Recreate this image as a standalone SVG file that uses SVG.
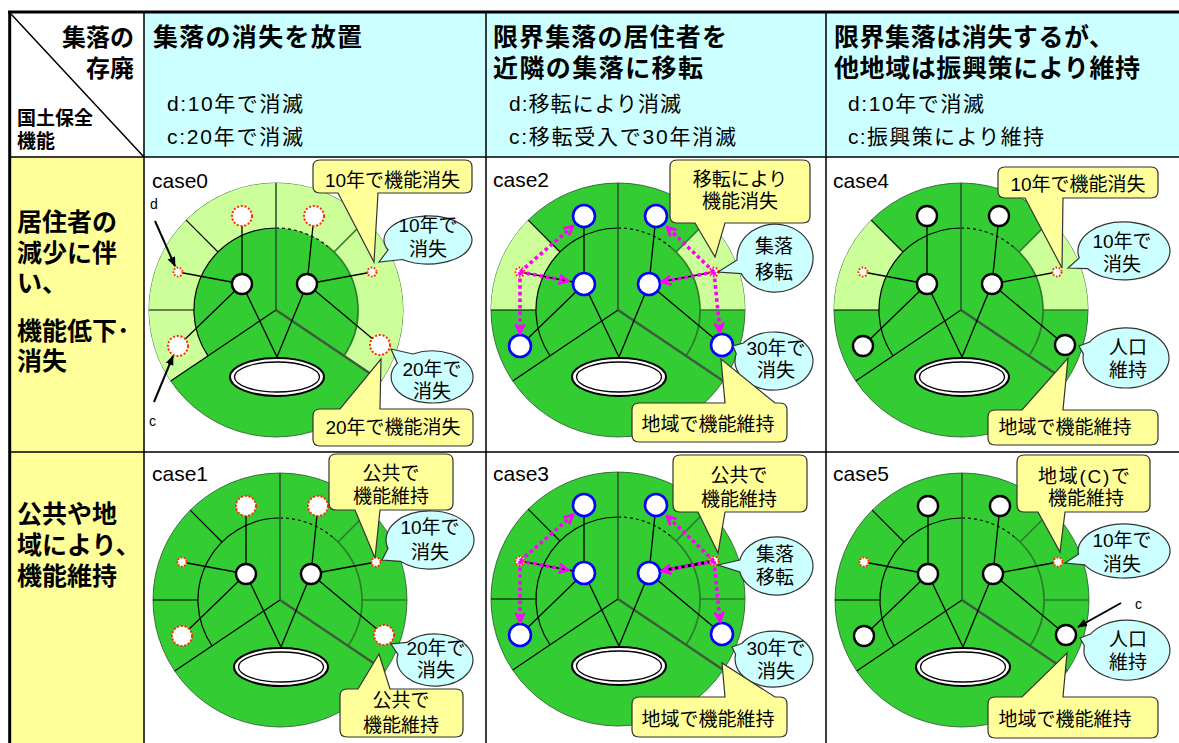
<svg xmlns="http://www.w3.org/2000/svg" xmlns:xlink="http://www.w3.org/1999/xlink" width="1179" height="743" viewBox="0 0 1179 743">
<defs>
<style>
text{font-family:"Liberation Sans","Noto Sans CJK JP",sans-serif;fill:#000}
.th{font-size:25px;font-weight:bold}
.tb{font-size:25px;font-weight:bold}
.tk{font-size:24px;font-weight:bold}
.tq{font-size:19px;font-weight:bold}
.ts{font-size:21px}
.tc{font-size:19px;text-anchor:middle}
.tcase{font-size:21px}
.tl{font-size:14px}
.grid{fill:none;stroke:#000;stroke-width:1.5}
.dk{fill:#33CC33;stroke:#24522a;stroke-width:0.8}
.lt{fill:#CCFF99}
.ln{fill:none;stroke:#000;stroke-width:1.2}
.lg{fill:none;stroke:#2B7A2B;stroke-width:1.6}
.dash{stroke-dasharray:3 3}
.lup{fill:none;stroke:#2f5530;stroke-width:1.6}
.lrd{fill:none;stroke:#3b5b3b;stroke-width:2.4}
.ed{fill:none;stroke:#000;stroke-width:1.3}
.nw{fill:#fff;stroke:#000;stroke-width:2.4}
.nb{fill:#fff;stroke:#0000FF;stroke-width:2.6}
.nr{fill:#fff;stroke:#FF2A00;stroke-width:2;stroke-dasharray:2 1.8}
.ns{fill:#fff;stroke:#FF2A00;stroke-width:2;stroke-dasharray:1.6 1.6}
.yc{fill:#FFFF99;stroke:#333;stroke-width:1.2}
.cc{fill:#CCFFFF;stroke:#333;stroke-width:1.2}
.mg{fill:none;stroke:#FF00FF;stroke-width:3.6;stroke-dasharray:3.6 3;marker-end:url(#mh)}
.ar{fill:none;stroke:#000;stroke-width:2;marker-end:url(#ah)}
</style>
<marker id="mh" viewBox="0 0 12 12" refX="10" refY="6" markerWidth="12" markerHeight="12" markerUnits="userSpaceOnUse" orient="auto">
<path d="M1,1.5 L10,6 L1,10.5" fill="none" stroke="#FF00FF" stroke-width="2.6"/>
</marker>
<marker id="ah" viewBox="0 0 10 10" refX="9" refY="5" markerWidth="10" markerHeight="10" markerUnits="userSpaceOnUse" orient="auto">
<path d="M0,1 L10,5 L0,9 Z" fill="#000"/>
</marker>
<!-- outer ring pieces of the disc (inner radius 82, outer radius 127) -->
<path id="ring-all" d="M-105.3,71 A127,127 0 1 1 105.3,71 L68,45.9 A82,82 0 1 0 -68,45.9 Z"/>
<path id="ring-l" d="M-89.8,-89.8 A127,127 0 0 0 -127,0 L-82,0 A82,82 0 0 1 -58,-58 Z"/>
<path id="ring-r" d="M127,0 A127,127 0 0 0 89.8,-89.8 L58,-58 A82,82 0 0 1 82,0 Z"/>
<!-- sector boundaries and inner circle -->
<g id="lines-a">
<path class="ln" d="M0,-82 A82,82 0 0 0 -68,45.9"/>
<path class="ln dash" d="M0,-82 A82,82 0 0 1 52.7,-62.8"/>
<path class="lg" d="M52.7,-62.8 A82,82 0 0 1 68,45.9"/>
<path class="ln" d="M0,0 L-105.3,71 M-58,-58 L-89.8,-89.8 M-82,0 L-127,0"/>
<path class="lg" d="M58,-58 L89.8,-89.8"/>
<path class="lup" d="M0,0 V-127"/>
<path class="lrd" d="M0,0 L105.3,71"/>
</g>
<g id="lines-b">
<use href="#lines-a"/>
<path class="lg" d="M82,0 L127,0"/>
</g>
<g id="lake">
<ellipse cx="1" cy="67" rx="47" ry="19" fill="#fff" stroke="#000" stroke-width="2"/>
<ellipse cx="1" cy="67" rx="42.5" ry="15" fill="#fff" stroke="#000" stroke-width="1.3"/>
</g>
<path id="links" class="ed" d="M-34,-26V-94M-34,-26L-98,-38M-34,-26L-98,36M-34,-26L1,47M31,-26L38,-94M31,-26L96,-38M31,-26L104,35M31,-26L1,47"/>
<g id="moves">
<path class="mg" d="M-98,-38 L-45,-84"/>
<path class="mg" d="M-98,-38 L-50,-29"/>
<path class="mg" d="M-98,-38 L-98,23"/>
<path class="mg" d="M96,-38 L49,-83"/>
<path class="mg" d="M96,-38 L44,-28"/>
<path class="mg" d="M96,-38 L102,22"/>
</g>
</defs>

<!-- table -->
<g id="table">
<rect x="9" y="12" width="1170" height="731" fill="#fff"/>
<rect x="144" y="12" width="1035" height="145" fill="#CCFFFF"/>
<rect x="9" y="157" width="135" height="586" fill="#FFFF99"/>
<line x1="11" y1="14" x2="144" y2="157" stroke="#000" stroke-width="1.5"/>
<path class="grid" d="M144,12V743 M486,12V743 M826,12V743 M9,157H1179 M9,452H1179"/>
<path fill="none" stroke="#000" stroke-width="3" d="M8,12H1179 M9.7,11V743"/>
</g>

<!-- header labels -->
<g id="header">
<text class="tk" x="134" y="46" text-anchor="end">集落の</text>
<text class="tk" x="134" y="77" text-anchor="end">存廃</text>
<text class="tq" x="17" y="125">国土保全</text>
<text class="tq" x="17" y="148">機能</text>
<text class="th" x="153" y="46" textLength="209" lengthAdjust="spacing">集落の消失を放置</text>
<text class="ts" x="167" y="111" textLength="136" lengthAdjust="spacing">d:10年で消滅</text>
<text class="ts" x="167" y="144" textLength="136" lengthAdjust="spacing">c:20年で消滅</text>
<text class="th" x="493" y="46" textLength="234" lengthAdjust="spacing">限界集落の居住者を</text>
<text class="th" x="493" y="77" textLength="210" lengthAdjust="spacing">近隣の集落に移転</text>
<text class="ts" x="509" y="111" textLength="172" lengthAdjust="spacing">d:移転により消滅</text>
<text class="ts" x="509" y="144" textLength="227" lengthAdjust="spacing">c:移転受入で30年消滅</text>
<text class="th" x="834" y="46" textLength="280" lengthAdjust="spacing">限界集落は消失するが、</text>
<text class="th" x="834" y="77" textLength="306" lengthAdjust="spacing">他地域は振興策により維持</text>
<text class="ts" x="848" y="111" textLength="136" lengthAdjust="spacing">d:10年で消滅</text>
<text class="ts" x="848" y="144" textLength="196" lengthAdjust="spacing">c:振興策により維持</text>
</g>

<g id="row-labels">
<text class="tb" x="17" y="231">居住者の</text>
<text class="tb" x="17" y="262">減少に伴</text>
<text class="tb" x="17" y="292">い、</text>
<text class="tb" x="17" y="340">機能低下･</text>
<text class="tb" x="17" y="370">消失</text>
<text class="tb" x="17" y="523">公共や地</text>
<text class="tb" x="17" y="554">域により、</text>
<text class="tb" x="17" y="585">機能維持</text>
</g>

<!-- discs -->
<g id="discs">
<g id="disc0" transform="translate(276,310)">
<circle r="127" class="dk"/><use href="#ring-all" class="lt"/><use href="#lines-a"/><use href="#lake"/>
</g>
<g id="disc1" transform="translate(280,600)">
<circle r="127" class="dk"/><use href="#lines-b"/><use href="#lake"/>
</g>
<g id="disc2" transform="translate(618,310)">
<circle r="127" class="dk"/><use href="#ring-l" class="lt"/><use href="#ring-r" class="lt"/><use href="#lines-b"/><use href="#lake"/>
</g>
<g id="disc3" transform="translate(618,599)">
<circle r="127" class="dk"/><use href="#lines-b"/><use href="#lake"/>
</g>
<g id="disc4" transform="translate(961,310)">
<circle r="127" class="dk"/><use href="#ring-l" class="lt"/><use href="#ring-r" class="lt"/><use href="#lines-b"/><use href="#lake"/>
</g>
<g id="disc5" transform="translate(962,600)">
<circle r="127" class="dk"/><use href="#lines-b"/><use href="#lake"/>
</g>
</g>

<!-- links between settlements -->
<g id="connectors">
<use href="#links" transform="translate(276,310)"/>
<use href="#links" transform="translate(280,600)"/>
<use href="#links" transform="translate(618,310)"/>
<use href="#links" transform="translate(618,599)"/>
<path d="M714,561 L649,573" fill="none" stroke="#000" stroke-width="3"/>
<use href="#links" transform="translate(961,310)"/>
<use href="#links" transform="translate(962,600)"/>
</g>

<!-- settlements -->
<g id="nodes">
<g id="nodes0" transform="translate(276,310)">
<circle class="nw" cx="-34" cy="-26" r="10"/><circle class="nw" cx="31" cy="-26" r="10"/>
<circle class="nr" cx="-34" cy="-94" r="10"/><circle class="nr" cx="38" cy="-94" r="10"/>
<circle class="nr" cx="-98" cy="36" r="10"/><circle class="nr" cx="104" cy="35" r="10"/>
<circle class="ns" cx="-98" cy="-38" r="4.5"/><circle class="ns" cx="96" cy="-38" r="4.5"/>
</g>
<g id="nodes1" transform="translate(280,600)">
<circle class="nw" cx="-34" cy="-26" r="10"/><circle class="nw" cx="31" cy="-26" r="10"/>
<circle class="nr" cx="-34" cy="-94" r="10"/><circle class="nr" cx="38" cy="-94" r="10"/>
<circle class="nr" cx="-98" cy="36" r="10"/><circle class="nr" cx="104" cy="35" r="10"/>
<circle class="ns" cx="-98" cy="-38" r="4.5"/><circle class="ns" cx="96" cy="-38" r="4.5"/>
</g>
<g id="nodes2" transform="translate(618,310)">
<circle class="nb" cx="-34" cy="-26" r="11"/><circle class="nb" cx="31" cy="-26" r="11"/>
<circle class="nb" cx="-34" cy="-94" r="11"/><circle class="nb" cx="38" cy="-94" r="11"/>
<circle class="nb" cx="-98" cy="36" r="11"/><circle class="nb" cx="104" cy="35" r="11"/>
<circle class="ns" cx="-98" cy="-38" r="4.5"/><circle class="ns" cx="96" cy="-38" r="4.5"/>
</g>
<g id="nodes3" transform="translate(618,599)">
<circle class="nb" cx="-34" cy="-26" r="11"/><circle class="nb" cx="31" cy="-26" r="11"/>
<circle class="nb" cx="-34" cy="-94" r="11"/><circle class="nb" cx="38" cy="-94" r="11"/>
<circle class="nb" cx="-98" cy="36" r="11"/><circle class="nb" cx="104" cy="35" r="11"/>
<circle class="ns" cx="-98" cy="-38" r="4.5"/><circle class="ns" cx="96" cy="-38" r="4.5"/>
</g>
<g id="nodes4" transform="translate(961,310)">
<circle class="nw" cx="-34" cy="-26" r="10"/><circle class="nw" cx="31" cy="-26" r="10"/>
<circle class="nw" cx="-34" cy="-94" r="10"/><circle class="nw" cx="38" cy="-94" r="10"/>
<circle class="nw" cx="-98" cy="36" r="10"/><circle class="nw" cx="104" cy="35" r="10"/>
<circle class="ns" cx="-98" cy="-38" r="4.5"/><circle class="ns" cx="96" cy="-38" r="4.5"/>
</g>
<g id="nodes5" transform="translate(962,600)">
<circle class="nw" cx="-34" cy="-26" r="10"/><circle class="nw" cx="31" cy="-26" r="10"/>
<circle class="nw" cx="-34" cy="-94" r="10"/><circle class="nw" cx="38" cy="-94" r="10"/>
<circle class="nw" cx="-98" cy="36" r="10"/><circle class="nw" cx="104" cy="35" r="10"/>
<circle class="ns" cx="-98" cy="-38" r="4.5"/><circle class="ns" cx="96" cy="-38" r="4.5"/>
</g>
</g>

<!-- relocation arrows and pointer arrows -->
<g id="arrows">
<use href="#moves" transform="translate(618,310)"/>
<use href="#moves" transform="translate(618,599)"/>
<path class="ar" d="M155,221 L175,266"/>
<path class="ar" d="M154,402 L173,356"/>
<path class="ar" d="M1121,603 L1078,627"/>
<text class="tl" x="150" y="209">d</text>
<text class="tl" x="149" y="426">c</text>
<text class="tl" x="1135" y="609">c</text>
</g>

<!-- case titles -->
<g id="case-labels">
<text class="tcase" x="152" y="188">case0</text>
<text class="tcase" x="152" y="481">case1</text>
<text class="tcase" x="493" y="187">case2</text>
<text class="tcase" x="493" y="481">case3</text>
<text class="tcase" x="833" y="188">case4</text>
<text class="tcase" x="833" y="481">case5</text>
</g>

<!-- callouts -->
<g id="callouts">
<g id="c0-a"><path class="yc" d="M320,160 H465 Q472,160 472,167 V186 Q472,193 465,193 H378 L374,262 L338,193 H320 Q313,193 313,186 V167 Q313,160 320,160 Z"/><text class="tc" x="392.5" y="187">10年で機能消失</text></g>
<g id="c0-b"><path class="cc" d="M402.4,259.5 A44,24 0 1 0 388,250 L379,262 Z"/><text class="tc" x="428" y="232">10年で</text><text class="tc" x="428" y="256">消失</text></g>
<g id="c0-c"><path class="cc" d="M397.3,363.2 A41,26 0 1 0 412.8,354 L391,349 Z"/><text class="tc" x="432" y="376">20年で</text><text class="tc" x="432" y="398">消失</text></g>
<g id="c0-d"><path class="yc" d="M320,409 H340 L381,359 L380,409 H466 Q473,409 473,416 V439 Q473,446 466,446 H320 Q313,446 313,439 V416 Q313,409 320,409 Z"/><text class="tc" x="393" y="434">20年で機能消失</text></g>

<g id="c1-a"><path class="yc" d="M336,454 H446 Q453,454 453,461 V503 Q453,510 446,510 H380 L375,558 L355,510 H336 Q329,510 329,503 V461 Q329,454 336,454 Z"/><text class="tc" x="391" y="480">公共で</text><text class="tc" x="391" y="503">機能維持</text></g>
<g id="c1-b"><path class="cc" d="M400.2,561.3 A44,29 0 1 0 388,548.6 L382,560 Z"/><text class="tc" x="430" y="534">10年で</text><text class="tc" x="430" y="559">消失</text></g>
<g id="c1-c"><path class="cc" d="M397.9,654.3 A38,26 0 1 0 407,642.4 L391,644 Z"/><text class="tc" x="436" y="655">20年で</text><text class="tc" x="436" y="677">消失</text></g>
<g id="c1-d"><path class="yc" d="M347,689 H358 L379,654 L390,689 H456 Q463,689 463,696 V730 Q463,737 456,737 H347 Q340,737 340,730 V696 Q340,689 347,689 Z"/><text class="tc" x="401" y="707">公共で</text><text class="tc" x="401" y="732">機能維持</text></g>

<g id="c2-a"><path class="yc" d="M677,160 H803 Q810,160 810,167 V216 Q810,223 803,223 H725 L715,257 L695,223 H677 Q670,223 670,216 V167 Q670,160 677,160 Z"/><text class="tc" x="740" y="186">移転により</text><text class="tc" x="740" y="208">機能消失</text></g>
<g id="c2-b"><path class="cc" d="M741.2,273.6 A38,34 0 1 0 737.1,260 L718,272 Z"/><text class="tc" x="774" y="253">集落</text><text class="tc" x="774" y="279">移転</text></g>
<g id="c2-c"><path class="cc" d="M736.2,353.8 A39,29 0 1 0 743.4,343 L733,346 Z"/><text class="tc" x="776" y="355">30年で</text><text class="tc" x="776" y="377">消失</text></g>
<g id="c2-d"><path class="yc" d="M639,403 H725 L721,359 L775,403 H780 Q787,403 787,410 V435 Q787,442 780,442 H639 Q632,442 632,435 V410 Q632,403 639,403 Z"/><text class="tc" x="708" y="431">地域で機能維持</text></g>

<g id="c3-a"><path class="yc" d="M680,455 H800 Q807,455 807,462 V505 Q807,512 800,512 H725 L718,553 L698,512 H680 Q673,512 673,505 V462 Q673,455 680,455 Z"/><text class="tc" x="739" y="482">公共で</text><text class="tc" x="739" y="506">機能維持</text></g>
<g id="c3-b"><path class="cc" d="M739.8,572 A37,29 0 1 0 739.8,560 L718,565 Z"/><text class="tc" x="775" y="561">集落</text><text class="tc" x="775" y="584">移転</text></g>
<g id="c3-c"><path class="cc" d="M735.6,654.3 A39,28 0 1 0 741.6,643.5 L732,647 Z"/><text class="tc" x="776" y="655">30年で</text><text class="tc" x="776" y="678">消失</text></g>
<g id="c3-d"><path class="yc" d="M639,697 H725 L722,663 L775,697 H780 Q787,697 787,704 V730 Q787,737 780,737 H639 Q632,737 632,730 V704 Q632,697 639,697 Z"/><text class="tc" x="708" y="726">地域で機能維持</text></g>

<g id="c4-a"><path class="yc" d="M1005,167 H1151 Q1158,167 1158,174 V191 Q1158,198 1151,198 H1063 L1062,268 L1025,198 H1005 Q998,198 998,191 V174 Q998,167 1005,167 Z"/><text class="tc" x="1078" y="191">10年で機能消失</text></g>
<g id="c4-b"><path class="cc" d="M1087.6,268.7 A46,29 0 1 0 1079.3,257.9 L1068,268 Z"/><text class="tc" x="1122" y="248">10年で</text><text class="tc" x="1122" y="271">消失</text></g>
<g id="c4-c"><path class="cc" d="M1083.4,353.9 A43,30 0 1 0 1089.5,342.1 L1079,346 Z"/><text class="tc" x="1128" y="354">人口</text><text class="tc" x="1128" y="377">維持</text></g>
<g id="c4-d"><path class="yc" d="M995,410 H1022 L1068,358 L1063,410 H1151 Q1158,410 1158,417 V438 Q1158,445 1151,445 H995 Q988,445 988,438 V417 Q988,410 995,410 Z"/><text class="tc" x="1065" y="434">地域で機能維持</text></g>

<g id="c5-a"><path class="yc" d="M1024,455 H1143 Q1150,455 1150,462 V505 Q1150,512 1143,512 H1065 L1060,552 L1038,512 H1024 Q1017,512 1017,505 V462 Q1017,455 1024,455 Z"/><text class="tc" x="1084" y="483" textLength="92" lengthAdjust="spacing">地域(C)で</text><text class="tc" x="1086" y="505">機能維持</text></g>
<g id="c5-b"><path class="cc" d="M1084.6,564.9 A46,27 0 1 0 1078.4,554.3 L1065,563 Z"/><text class="tc" x="1122" y="547">10年で</text><text class="tc" x="1122" y="571">消失</text></g>
<g id="c5-c"><path class="cc" d="M1084.4,645.8 A43,30 0 1 0 1090.6,634.1 L1080,638 Z"/><text class="tc" x="1128" y="646">人口</text><text class="tc" x="1128" y="669">維持</text></g>
<g id="c5-d"><path class="yc" d="M995,697 H1022 L1067,653 L1063,697 H1151 Q1158,697 1158,704 V731 Q1158,738 1151,738 H995 Q988,738 988,731 V704 Q988,697 995,697 Z"/><text class="tc" x="1065" y="726">地域で機能維持</text></g>
</g>
</svg>
